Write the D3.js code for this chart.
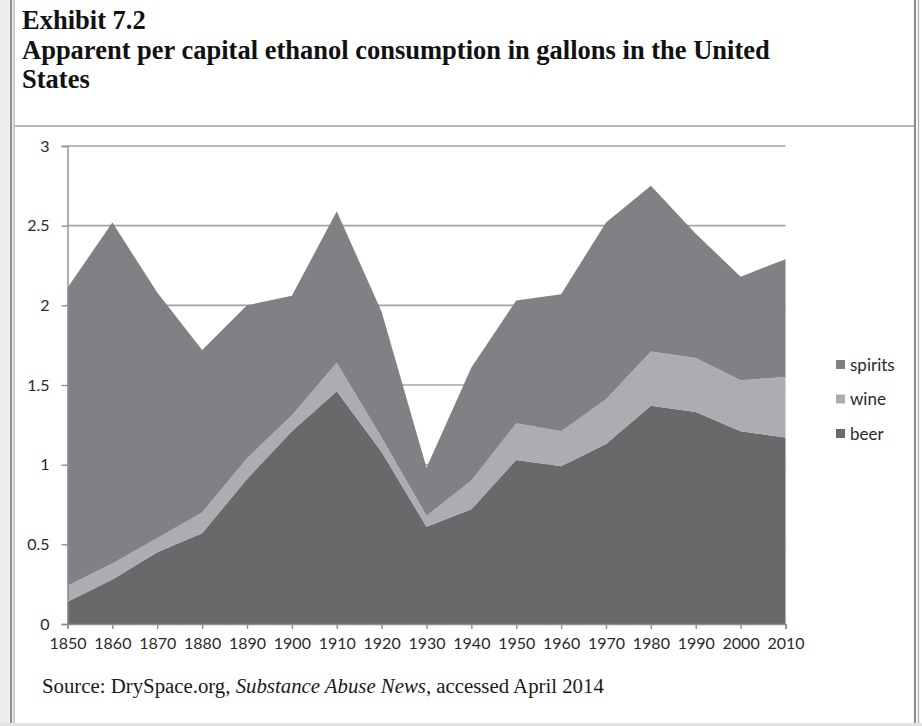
<!DOCTYPE html>
<html>
<head>
<meta charset="utf-8">
<script src="https://cdn.jsdelivr.net/npm/d3@7"></script>
<style>
  html, body { margin: 0; padding: 0; background: #fff; }
  svg { display: block; }
</style>
</head>
<body>
<svg id="chart" width="922" height="726"></svg>
<script>
// Apparent per capita ethanol consumption (gallons), United States
const years   = [1850, 1860, 1870, 1880, 1890, 1900, 1910, 1920, 1930, 1940, 1950, 1960, 1970, 1980, 1990, 2000, 2010];
const beer    = [0.14, 0.28, 0.45, 0.57, 0.91, 1.21, 1.46, 1.08, 0.61, 0.72, 1.03, 0.99, 1.13, 1.37, 1.33, 1.21, 1.17];
const wine    = [0.10, 0.10, 0.09, 0.13, 0.13, 0.10, 0.18, 0.09, 0.07, 0.18, 0.23, 0.22, 0.28, 0.34, 0.34, 0.32, 0.38];
const spirits = [1.87, 2.14, 1.54, 1.02, 0.96, 0.75, 0.95, 0.79, 0.30, 0.71, 0.77, 0.86, 1.11, 1.04, 0.78, 0.65, 0.74];
const yTicks  = [0, 0.5, 1, 1.5, 2, 2.5, 3];
const seriesKeys = ["beer", "wine", "spirits"];
const legendKeys = ["spirits", "wine", "beer"];
const colors = { spirits: "#818185", wine: "#adadb1", beer: "#69696b" };

const rows = years.map((yr, i) => ({ year: yr, beer: beer[i], wine: wine[i], spirits: spirits[i] }));

const svg = d3.select("#chart");

// ---- page frame ----
svg.append("rect").attr("x", 0).attr("y", 0).attr("width", 9).attr("height", 726).attr("fill", "#ececec");
svg.append("line").attr("x1", 11).attr("x2", 11).attr("y1", 0).attr("y2", 726).attr("stroke", "#8c8c8c").attr("stroke-width", 2.2);
svg.append("line").attr("x1", 14).attr("x2", 14).attr("y1", 0).attr("y2", 726).attr("stroke", "#a8a8a8").attr("stroke-width", 1.2);
svg.append("line").attr("x1", 915).attr("x2", 915).attr("y1", 0).attr("y2", 726).attr("stroke", "#8c8c8c").attr("stroke-width", 2.2);
svg.append("line").attr("x1", 918.5).attr("x2", 918.5).attr("y1", 0).attr("y2", 726).attr("stroke", "#a8a8a8").attr("stroke-width", 1.2);
svg.append("line").attr("x1", 14).attr("x2", 914).attr("y1", 126).attr("y2", 126).attr("stroke", "#b8b8bc").attr("stroke-width", 2);
svg.append("line").attr("x1", 0).attr("x2", 922).attr("y1", 724.5).attr("y2", 724.5).attr("stroke", "#e2e2e2").attr("stroke-width", 3);

// ---- title ----
const title = svg.append("g")
  .attr("font-family", "'Liberation Serif', 'Times New Roman', serif")
  .attr("font-weight", "bold")
  .attr("font-size", 26.5)
  .attr("fill", "#111");
title.append("text").attr("x", 22).attr("y", 29).text("Exhibit 7.2");
title.append("text").attr("x", 22).attr("y", 59).text("Apparent per capital ethanol consumption in gallons in the United");
title.append("text").attr("x", 22).attr("y", 88).text("States");

// ---- scales ----
const x = d3.scaleLinear().domain([1850, 2010]).range([67.5, 785.5]);
const y = d3.scaleLinear().domain([0, 3]).range([624, 146]);

// gridlines
svg.append("g").selectAll("line")
  .data(yTicks.filter(t => t > 0))
  .join("line")
  .attr("x1", x(1850)).attr("x2", x(2010))
  .attr("y1", d => y(d)).attr("y2", d => y(d))
  .attr("stroke", "#a4a4a6").attr("stroke-width", 1.6);

// stacked areas
const stack = d3.stack().keys(seriesKeys);
const layers = stack(rows);
const area = d3.area()
  .x(d => x(d.data.year))
  .y0(d => y(d[0]))
  .y1(d => y(d[1]));

svg.append("g").selectAll("path")
  .data(layers)
  .join("path")
  .attr("fill", d => colors[d.key])
  .attr("d", area);

// axes
const axisFont = "Lato, 'Open Sans', sans-serif";
const xAxis = svg.append("g")
  .attr("transform", `translate(0,${y(0)})`)
  .call(d3.axisBottom(x).tickValues(years).tickFormat(d3.format("d")).tickSize(5).tickPadding(9));
const yAxis = svg.append("g")
  .attr("transform", `translate(${x(1850)},0)`)
  .call(d3.axisLeft(y).tickValues(yTicks).tickFormat(d => String(d)).tickSize(6).tickPadding(12));

[xAxis, yAxis].forEach(g => {
  g.select(".domain").attr("stroke", "#8e8e90").attr("stroke-width", 1.4);
  g.selectAll(".tick line").attr("stroke", "#8e8e90").attr("stroke-width", 1.4);
  g.selectAll(".tick text")
    .attr("font-family", axisFont)
    .attr("font-size", 16)
    .attr("fill", "#2a2a2a");
});

// legend
const legend = svg.append("g")
  .attr("font-family", axisFont)
  .attr("font-size", 17)
  .attr("fill", "#2a2a2a");
const lg = legend.selectAll("g")
  .data(legendKeys)
  .join("g")
  .attr("transform", (d, i) => `translate(836,${364.5 + i * 34.5})`);
lg.append("rect")
  .attr("x", 0).attr("y", -4.5).attr("width", 9).attr("height", 9)
  .attr("fill", d => colors[d]);
lg.append("text")
  .attr("x", 14).attr("y", 6)
  .text(d => d);

// source line
const src = svg.append("text")
  .attr("x", 42).attr("y", 693)
  .attr("font-family", "'Liberation Serif', 'Times New Roman', serif")
  .attr("font-size", 20.8)
  .attr("fill", "#1a1a1a");
src.append("tspan").text("Source: DrySpace.org, ");
src.append("tspan").attr("font-style", "italic").text("Substance Abuse News");
src.append("tspan").text(", accessed April 2014");
</script>
</body>
</html>
